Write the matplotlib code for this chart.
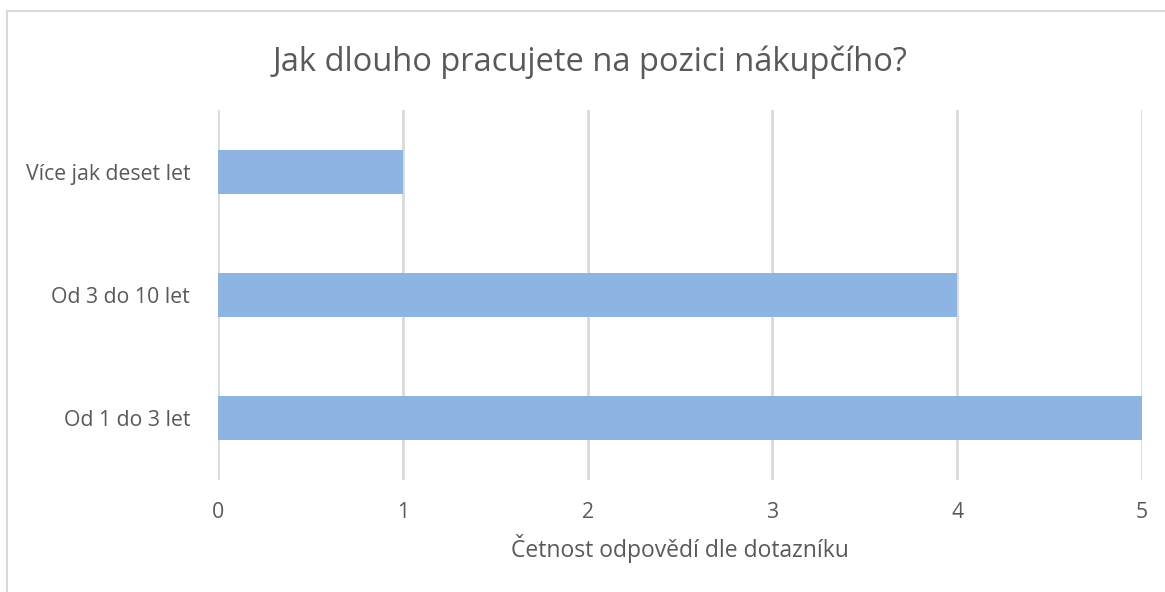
import matplotlib.pyplot as plt
from matplotlib.lines import Line2D

# categories and counts
categories = ['Od 1 do 3 let', 'Od 3 do 10 let', 'Více jak deset let']
counts = [5, 4, 1]
xticks = [0, 1, 2, 3, 4, 5]

plt.rcParams['font.family'] = ['Open Sans', 'DejaVu Sans']
text_color = '#595959'

fig = plt.figure(figsize=(11.65, 5.92), dpi=100)
ax = fig.add_axes([218 / 1165, 1 - 480 / 592, (1142 - 218) / 1165, (480 - 110) / 592])

ax.barh(categories, counts, height=0.355, color='#8EB4E3', zorder=2)
ax.set_xlim(0, 5)
ax.set_ylim(-0.5, 2.5)
ax.set_xticks(xticks)
ax.grid(axis='x', color='#D9D9D9', linewidth=2, zorder=1)
ax.tick_params(length=0, labelsize=15.3, colors=text_color)
ax.tick_params(axis='x', pad=16)
ax.tick_params(axis='y', pad=20)
for s in ax.spines.values():
    s.set_visible(False)

ax.set_xlabel('Četnost odpovědí dle dotazníku', fontsize=16.5, color=text_color, labelpad=8)
fig.text(590 / 1165, 1 - 62 / 592, 'Jak dlouho pracujete na pozici nákupčího?',
         ha='center', va='center', fontsize=23.5, color=text_color)

# chart border
fig.add_artist(Line2D([7 / 1165, 7 / 1165], [0, 1 - 11 / 592], transform=fig.transFigure,
                      color='#D9D9D9', linewidth=1.5))
fig.add_artist(Line2D([7 / 1165, 1], [1 - 11 / 592, 1 - 11 / 592], transform=fig.transFigure,
                      color='#D9D9D9', linewidth=1.5))

fig.savefig('out.png', dpi=100)
